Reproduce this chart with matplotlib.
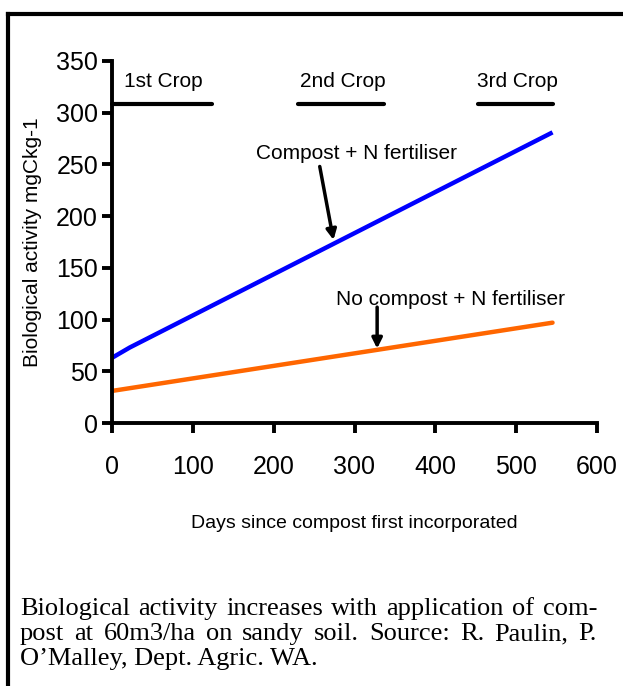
import matplotlib
matplotlib.use("Agg")
import matplotlib.pyplot as plt
from matplotlib.lines import Line2D

# Data
days_compost = [0, 22, 545]
activity_compost = [63, 73, 281]
days_nocompost = [0, 545]
activity_nocompost = [31, 97]

crop_labels = ["1st Crop", "2nd Crop", "3rd Crop"]
crop_start = [0, 230, 453]
crop_end = [124, 337, 545]
crop_level = 308

xticks = [0, 100, 200, 300, 400, 500, 600]
yticks = [0, 50, 100, 150, 200, 250, 300, 350]

caption_lines = ["Biological activity increases with application of com-",
                 "post at 60m3/ha on sandy soil. Source: R. Paulin, P.",
                 "O\u2019Malley, Dept. Agric. WA."]
caption_justify = [True, True, False]

plt.rcParams['font.family'] = ['Liberation Sans', 'DejaVu Sans']

fig = plt.figure(figsize=(6.23, 6.86), dpi=100)
ax = fig.add_axes([112/623, 1-423/686, (597-112)/623, (423-61)/686])

ax.plot(days_compost, activity_compost, color='#0000ff', lw=3.2, solid_capstyle='butt')
ax.plot(days_nocompost, activity_nocompost, color='#ff6600', lw=3.2, solid_capstyle='round')

for lab, s, e in zip(crop_labels, crop_start, crop_end):
    ax.plot([s, e], [crop_level, crop_level], color='black', lw=3, solid_capstyle='round', clip_on=False)
    ax.text((s + e) / 2 + 2, crop_level + 13, lab, ha='center', va='bottom', fontsize=15)

ax.text(303, 261, "Compost + N fertiliser", ha='center', va='center', fontsize=15)
ax.annotate("", xy=(274, 177), xytext=(257, 248),
            arrowprops=dict(arrowstyle='-|>', color='black', lw=2.5, mutation_scale=15,
                            shrinkA=0, shrinkB=0))
ax.text(419, 119, "No compost + N fertiliser", ha='center', va='center', fontsize=15)
ax.annotate("", xy=(328, 72), xytext=(328, 112),
            arrowprops=dict(arrowstyle='-|>', color='black', lw=2.5, mutation_scale=15,
                            shrinkA=0, shrinkB=0))

ax.set_xlim(0, 600)
ax.set_ylim(0, 350)
ax.set_xticks(xticks)
ax.set_yticks(yticks)
ax.spines['top'].set_visible(False)
ax.spines['right'].set_visible(False)
for sp in ['left', 'bottom']:
    ax.spines[sp].set_linewidth(2.8)
ax.tick_params(axis='both', direction='out', length=7, width=2.8, labelsize=18)
ax.tick_params(axis='x', pad=16)
ax.tick_params(axis='y', pad=3)

ax.set_xlabel("Days since compost first incorporated", fontsize=14, labelpad=26)
ax.set_ylabel("Biological activity mgCkg-1", fontsize=15, labelpad=10)

# Caption, justified like the original
renderer = fig.canvas.get_renderer()
left_px, right_px = 20, 597
cap_font = dict(family=['Liberation Serif', 'DejaVu Serif'], fontsize=19)
for i, (line, just) in enumerate(zip(caption_lines, caption_justify)):
    ypos = 1 - (609 + 25 * i) / 686
    if not just:
        fig.text(left_px / 623, ypos, line, ha='left', va='center', **cap_font)
        continue
    words = line.split(' ')
    texts = [fig.text(0, ypos, w, ha='left', va='center', **cap_font) for w in words]
    widths = [t.get_window_extent(renderer).width for t in texts]
    gap = (right_px - left_px - sum(widths)) / (len(words) - 1)
    x = left_px
    for t, w in zip(texts, widths):
        t.set_x(x / 623)
        x += w + gap

fig.add_artist(Line2D([8/623, 1.0], [1-14/686, 1-14/686], color='black', lw=3,
                      transform=fig.transFigure))
fig.add_artist(Line2D([8/623, 8/623], [1-14/686, 0], color='black', lw=3,
                      transform=fig.transFigure))

fig.savefig("out.png", dpi=100)
